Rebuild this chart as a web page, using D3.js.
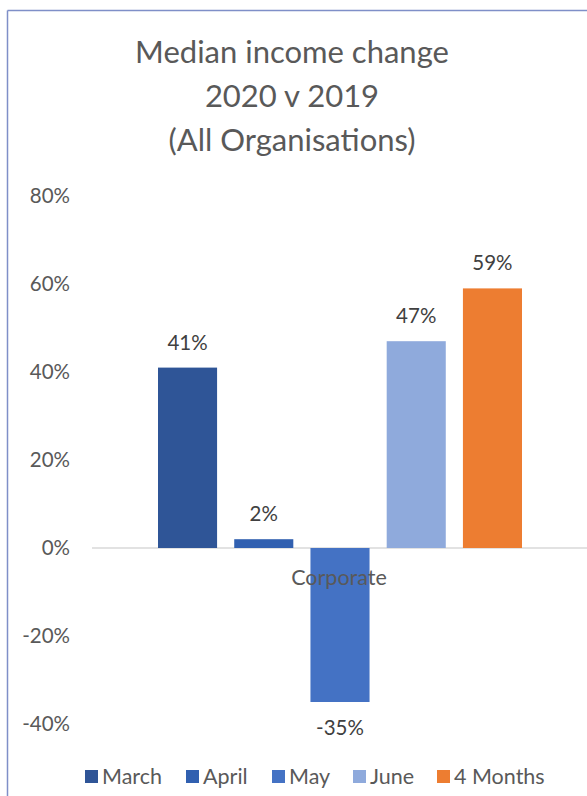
<!DOCTYPE html>
<html>
<head>
<meta charset="utf-8">
<script src="https://cdn.jsdelivr.net/npm/d3@7"></script>
<style>
  body { margin: 0; background: #fff; }
  text { font-family: Lato, "Open Sans", sans-serif; }
</style>
</head>
<body>
<svg id="chart"></svg>
<script>
// data
const category = "Corporate"
const series = ["March", "April", "May", "June", "4 Months"]
const values = [0.41, 0.02, -0.35, 0.47, 0.59]
const colors = ["#2f5597", "#3160b0", "#4472c4", "#8faadc", "#ed7d31"]
const yTicks = [-0.4, -0.2, 0, 0.2, 0.4, 0.6, 0.8]
const titleLines = ["Median income change", "2020 v 2019", "(All Organisations)"]

let w = 587,
    h = 796

// plain hyphen instead of unicode minus, like the original
let pct = v => d3.format(".0%")(v).replace("\u2212", "-")

let svg = d3.select("#chart")
    .attr("width", w)
    .attr("height", h)

// frame lines (top + left)
svg.append("line")
    .attr("x1", 7.5).attr("y1", 10.5).attr("x2", w).attr("y2", 10.5)
    .attr("stroke", "#7f8fc8").attr("stroke-width", 1.5)
svg.append("line")
    .attr("x1", 7.5).attr("y1", 10.5).attr("x2", 7.5).attr("y2", h)
    .attr("stroke", "#7f8fc8").attr("stroke-width", 1.5)

svg.append("g")
    .selectAll("text")
    .data(titleLines)
    .enter().append("text")
    .attr("x", 292)
    .attr("y", (d, i) => 63 + i * 44)
    .attr("text-anchor", "middle")
    .attr("font-size", 31)
    .attr("fill", "#595959")
    .text(d => d)

let y = d3.scaleLinear()
    .domain([-0.4, 0.8])
    .range([724, 196])

let x0 = d3.scaleBand()
    .domain([category])
    .range([92, 588])

let x1 = d3.scaleBand()
    .domain(series)
    .range([158, 522])
    .paddingInner(0.225)

// y axis labels only
let yAxis = d3.axisLeft(y)
    .tickValues(yTicks)
    .tickFormat(pct)
    .tickSize(0)
    .tickPadding(0)

let gy = svg.append("g")
    .attr("transform", "translate(70,0)")
    .call(yAxis)
gy.select(".domain").remove()
gy.selectAll("text")
    .attr("font-size", 20.5)
    .attr("fill", "#595959")
    .attr("font-family", "Lato, 'Open Sans', sans-serif")

// zero line
svg.append("line")
    .attr("x1", x0.range()[0])
    .attr("x2", x0.range()[1])
    .attr("y1", y(0))
    .attr("y2", y(0))
    .attr("stroke", "#d9d9d9")
    .attr("stroke-width", 1.5)

let rows = series.map((s, i) => ({ name: s, value: values[i], color: colors[i] }))

svg.append("g")
    .selectAll("rect")
    .data(rows)
    .enter().append("rect")
    .attr("x", d => x1(d.name))
    .attr("width", x1.bandwidth())
    .attr("y", d => y(Math.max(0, d.value)))
    .attr("height", d => Math.abs(y(d.value) - y(0)))
    .attr("fill", d => d.color)

// category label (drawn over bars like the original)
svg.append("text")
    .attr("x", x0(category) + x0.bandwidth() / 2 - 1)
    .attr("y", 585)
    .attr("text-anchor", "middle")
    .attr("font-size", 21.5)
    .attr("fill", "#595959")
    .text(category)

svg.append("g")
    .selectAll("text")
    .data(rows)
    .enter().append("text")
    .attr("x", d => x1(d.name) + x1.bandwidth() / 2)
    .attr("y", d => d.value >= 0 ? y(d.value) - 18 : y(d.value) + 33)
    .attr("text-anchor", "middle")
    .attr("font-size", 20.5)
    .attr("fill", "#404040")
    .text(d => pct(d.value))

// legend
let legendX = [85, 186, 272, 353, 437]
let legend = svg.append("g")
    .selectAll("g")
    .data(rows)
    .enter().append("g")
    .attr("transform", (d, i) => "translate(" + legendX[i] + ",770)")
legend.append("rect")
    .attr("width", 13)
    .attr("height", 13)
    .attr("fill", d => d.color)
legend.append("text")
    .attr("x", 17)
    .attr("y", 14)
    .attr("font-size", 21.5)
    .attr("fill", "#595959")
    .text(d => d.name)
</script>
</body>
</html>
